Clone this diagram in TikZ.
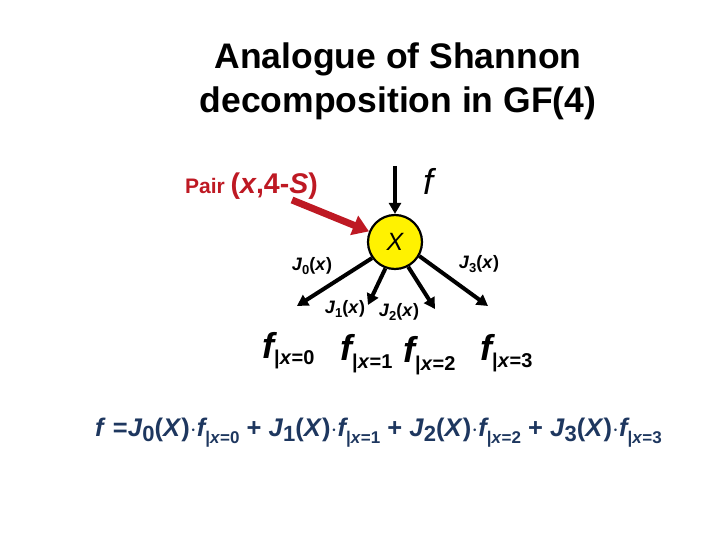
\documentclass[tikz,border=0pt]{standalone}
\usepackage{fontspec}
\setmainfont{Liberation Sans}
\usetikzlibrary{arrows.meta}
\definecolor{pairred}{RGB}{190,25,35}
\definecolor{formblue}{RGB}{30,55,95}
\newcommand{\fz}[4]{{\fontsize{#1}{#1}\selectfont\bfseries\itshape f}\raisebox{-#3}{\fontsize{#2}{#2}\selectfont\bfseries |\textit{x}=#4}}
\newcommand{\Jx}[1]{\textit{J}\raisebox{-0.25em}{\fontsize{13}{13}\selectfont #1}(\textit{x})}
\newcommand{\JX}[1]{\textit{J}\raisebox{-0.2em}{\fontsize{22}{22}\selectfont #1}(\textit{X})}
\begin{document}
\begin{tikzpicture}[x=1pt,y=-1pt,
  arr/.style={line width=4pt,-{Triangle[length=11pt,width=12pt]}},
  jlab/.style={font=\fontsize{18}{18}\selectfont\bfseries},
  fval/.style={anchor=base west,inner sep=0pt}]
\useasboundingbox (0,0) rectangle (720,540);
\node[font=\fontsize{35.5}{44}\selectfont\bfseries,align=center] (title) at (398,81) {Analogue of Shannon\\decomposition in GF(4)};
\node[circle,draw=black,line width=2.2pt,fill=yellow,minimum size=54pt,inner sep=0pt,font=\fontsize{25}{25}\selectfont\itshape] (X) at (395,242) {X};
\coordinate (ftop) at (395,166);
\node[font=\fontsize{36}{36}\selectfont\itshape] (flab) at (428,181) {f};
\draw[arr] (ftop) -- (X);
\node[anchor=base west,inner sep=0pt,text=pairred,font=\bfseries] (pair) at (185,194) {\fontsize{21}{21}\selectfont Pair \fontsize{28.5}{28.5}\selectfont(\textit{x},4-\textit{S})};
\coordinate (redstart) at (292,200);
\draw[line width=7pt,pairred,-{Triangle[length=16pt,width=20pt]}] (redstart) -- (X);
\coordinate (t0) at (297,306);
\coordinate (t1) at (368,305);
\coordinate (t2) at (435,309);
\coordinate (t3) at (488,306);
\draw[arr] (X.215) -- (t0);
\draw[arr] (X.250) -- (t1);
\draw[arr] (X.298) -- (t2);
\draw[arr] (X.330) -- (t3);
\node[jlab] (j0) at (312,266) {\Jx{0}};
\node[jlab] (j1) at (345,309) {\Jx{1}};
\node[jlab] (j2) at (399,312) {\Jx{2}};
\node[jlab] (j3) at (479,264) {\Jx{3}};
\node[fval] (f0) at (262,358) {\fz{36}{20}{6pt}{0}};
\node[fval] (f1) at (340,360) {\fz{36}{20}{8pt}{1}};
\node[fval] (f2) at (403,362) {\fz{36}{20}{8pt}{2}};
\node[fval] (f3) at (480,360) {\fz{36}{20}{7pt}{3}};
\node[anchor=base west,inner sep=0pt,text=formblue,font=\fontsize{25.5}{25.5}\selectfont\bfseries] (formula) at (95,436)
 {\textit{f} =\JX{0}$\cdot$\fz{25.5}{17}{7pt}{0} + \JX{1}$\cdot$\fz{25.5}{17}{7pt}{1} + \JX{2}$\cdot$\fz{25.5}{17}{7pt}{2} + \JX{3}$\cdot$\fz{25.5}{17}{7pt}{3}};
\end{tikzpicture}
\end{document}
